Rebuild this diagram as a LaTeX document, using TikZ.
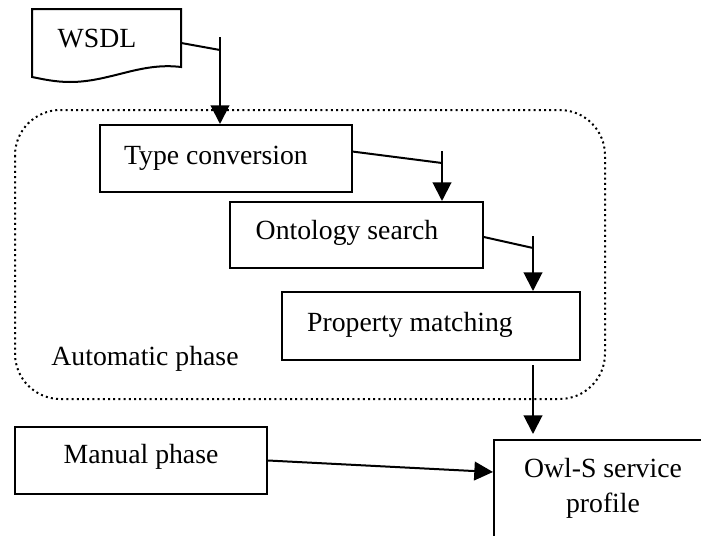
\documentclass[tikz,border=0pt]{standalone}
\usepackage{fontspec}
\setmainfont{Liberation Serif}
\usetikzlibrary{arrows.meta,fit,calc}
\begin{document}
\begin{tikzpicture}[x=0.75pt,y=-0.75pt,
  box/.style={draw, line width=1.5pt, fill=white, inner sep=0pt},
  lbl/.style={font=\fontsize{20.8}{26}\selectfont, inner sep=0pt, anchor=base},
  conn/.style={line width=1.5pt},
  arr/.style={line width=1.5pt, -{Triangle[length=14pt,width=14pt]}},
  phase/.style={line width=1.5pt, dash pattern=on 1.5pt off 2.4pt, rounded corners=34pt}]
\useasboundingbox (0,0) rectangle (701,536);
\clip (0,0) rectangle (701,536);

% automatic phase region
\draw[phase] (15,110) rectangle (605,399);
\node[lbl] (auto) at (145,365) {Automatic phase};

% WSDL document
\node[inner sep=0pt, fit={(32,9)(181,77)}] (wsdl) {};
\draw[line width=1.5pt, line join=miter] (32,9) -- (181,9) -- (181,67)
  .. controls (140,62) and (110,82) .. (70,82)
  .. controls (55,82) and (42,79) .. (32,77) -- cycle;
\node[lbl] at (97,47) {WSDL};

% boxes
\node[box, fit={(100,125)(352,192)}] (tc) {};
\node[lbl] at (216,164) {Type conversion};
\node[box, fit={(230,202)(483,268)}] (os) {};
\node[lbl] at (347,239) {Ontology search};
\node[box, fit={(282,292)(580,360)}] (pm) {};
\node[lbl] at (410,331) {Property matching};
\node[box, fit={(15,427)(267,494)}] (mp) {};
\node[lbl] at (141,463) {Manual phase};
\node[box, fit={(494,440)(712,548)}] (owl) {};
\node[lbl, align=center] at (603,512) {Owl-S service\\profile};

% connectors
\coordinate (t1) at (220,37);
\coordinate (j1) at (220,50);
\draw[conn] (wsdl.east) -- (j1);
\draw[arr] (t1) -- (t1 |- tc.north);

\coordinate (t2) at (442,151);
\coordinate (j2) at (442,163);
\draw[conn] ($(tc.north east)!0.4!(tc.south east)$) -- (j2);
\draw[arr] (t2) -- (t2 |- os.north);

\coordinate (t3) at (533,236);
\coordinate (j3) at (533,248);
\draw[conn] ($(os.north east)!0.53!(os.south east)$) -- (j3);
\draw[arr] (t3) -- (t3 |- pm.north);

\coordinate (t4) at (533,360);
\draw[arr, shorten <=3pt, shorten >=3.75pt] (t4 |- pm.south) -- (t4 |- owl.north);

\draw[arr] ($(mp.north east)!0.5!(mp.south east)$) -- ($(owl.north west)!0.3!(owl.south west)$);
\end{tikzpicture}
\end{document}
